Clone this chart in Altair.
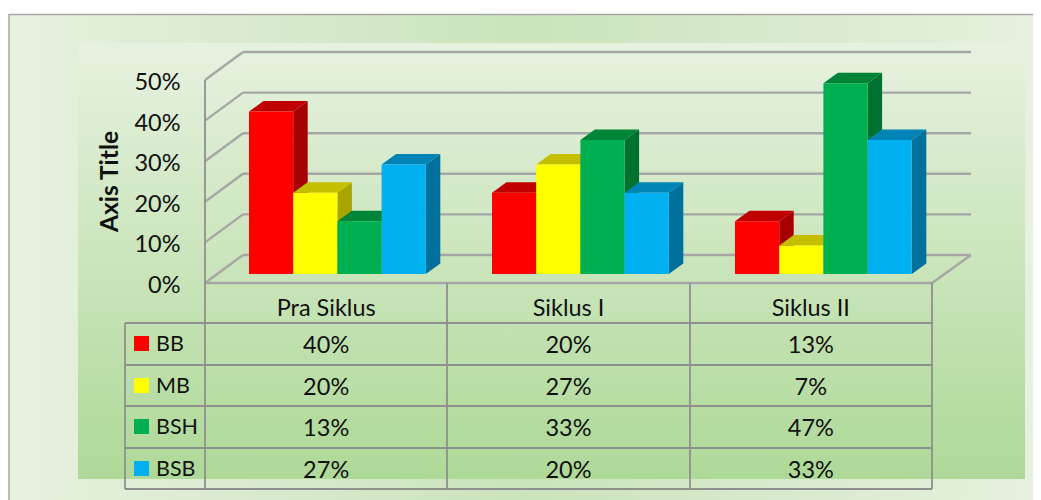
import altair as alt
import pandas as pd

categories = ["Pra Siklus", "Siklus I", "Siklus II"]
series = ["BB", "MB", "BSH", "BSB"]
bb = [40, 20, 13]
mb = [20, 27, 7]
bsh = [13, 33, 47]
bsb = [27, 20, 33]
y_ticks = [0, 10, 20, 30, 40, 50]
front_colors = ["#ff0000", "#ffff00", "#00b050", "#00b0f0"]
top_colors = ["#c00000", "#c4bf00", "#008437", "#0084b5"]
side_colors = ["#a60000", "#a8a400", "#00722f", "#00709c"]
values = [bb, mb, bsh, bsb]

FONT = "Lato"
FS = 23.5
GRID = "#a6a6a6"
LINE = "#8f8f8f"
TXT = "#111111"
W, H = 1025, 492
PER_SLOT = 727 / 3
PER_PCT = 4.06


def sx(p):
    return (p - 205) / PER_SLOT


def sy(p):
    return (283 - p) / PER_PCT


xs = alt.Scale(domain=[0, 3], range=[197, 924])
ys = alt.Scale(domain=[0, 50], range=[275, 72])
X = alt.X("x:Q", scale=xs, axis=None)
Y = alt.Y("y:Q", scale=ys, axis=None, stack=None)
DX = 14.5 / PER_SLOT
DY = 10.5 / PER_PCT
BASE = sy(274)
BW = 44.2 / PER_SLOT
GROUP_STEP = 243 / PER_SLOT

front, side, top = [], [], []
for s, vals in enumerate(values):
    for g, v in enumerate(vals):
        x0 = g * GROUP_STEP + sx(249) + s * BW
        x1 = x0 + BW
        yt = BASE + v
        bid = f"{s}-{g}"
        front.append({"x": x0, "x2": x1, "y": BASE, "y2": yt, "c": front_colors[s]})
        side.append({"id": bid, "x": x1, "y": BASE, "y2": yt, "c": side_colors[s]})
        side.append({"id": bid, "x": x1 + DX, "y": BASE + DY, "y2": yt + DY, "c": side_colors[s]})
        top.append({"id": bid, "x": x0, "x2": x1, "y": yt, "c": top_colors[s]})
        top.append({"id": bid, "x": x0 + DX, "x2": x1 + DX, "y": yt + DY, "c": top_colors[s]})

# 3D wall / floor lines
WX, WY = sx(243), sy(255)
back = pd.DataFrame([{"x": WX, "x2": sx(971), "y": t + WY, "y2": t + WY} for t in y_ticks])
diag = pd.DataFrame([{"x": 0, "x2": WX, "y": t, "y2": t + WY} for t in y_ticks]
                    + [{"x": 3, "x2": sx(971), "y": 0, "y2": WY}])
floor = pd.DataFrame([{"x": 0, "x2": 3, "y": 0, "y2": 0}])

# data table
row_edges = [323, 365, 406, 448, 489]
col_edges = [125, 205, 447, 690, 932]
h_rules = pd.DataFrame([{"x": sx(125), "x2": 3, "y": sy(p), "y2": sy(p)} for p in row_edges])
v_rules = pd.DataFrame(
    [{"x": sx(125), "x2": sx(125), "y": sy(323), "y2": sy(489)},
     {"x": 0, "x2": 0, "y": 50, "y2": sy(489)}]
    + [{"x": sx(p), "x2": sx(p), "y": 0, "y2": sy(489)} for p in col_edges[2:]]
)
row_mid = [344, 386, 427, 469]
TEXT_DROP = 1.5
cells = []
for g, c in enumerate(categories):
    cells.append({"x": g + 0.5, "y": sy(307 + TEXT_DROP), "t": c})
    for s, vals in enumerate(values):
        cells.append({"x": g + 0.5, "y": sy(row_mid[s] + TEXT_DROP), "t": f"{vals[g]}%"})
legend_text = pd.DataFrame([{"x": sx(156), "y": sy(row_mid[s] + TEXT_DROP - 1), "t": n} for s, n in enumerate(series)])
swatches = pd.DataFrame(
    [{"x": sx(134), "x2": sx(149), "y": sy(row_mid[s] - 0.5 + 7.5), "y2": sy(row_mid[s] - 0.5 - 7.5), "c": front_colors[s]}
     for s in range(4)]
)

one = pd.DataFrame({"a": [0]})
outer = alt.Chart(one).mark_rect(
    fill=alt.Gradient(gradient="linear", x1=0, x2=1, y1=0, y2=0,
                      stops=[alt.GradientStop(offset=0, color="#e6f1df"),
                             alt.GradientStop(offset=0.5, color="#cbe3bc"),
                             alt.GradientStop(offset=1, color="#e6f1df")]),
    stroke="#a6a6a6", strokeWidth=1.5,
).encode(x=alt.value(1), x2=alt.value(W + 10), y=alt.value(6.5), y2=alt.value(H + 10))
inner = alt.Chart(one).mark_rect(
    fill=alt.Gradient(gradient="linear", x1=0, x2=0, y1=0, y2=1,
                      stops=[alt.GradientStop(offset=0, color="#e7f1e0"),
                             alt.GradientStop(offset=1, color="#aed997")]),
).encode(x=alt.value(70), x2=alt.value(1017), y=alt.value(35), y2=alt.value(471))


def rules(df, color, width):
    return alt.Chart(df).mark_rule(stroke=color, strokeWidth=width).encode(
        x=X, x2="x2:Q", y=Y, y2="y2:Q")


axis_layer = alt.Chart(back).mark_rule(stroke=GRID, strokeWidth=2.4).encode(
    x=X, x2="x2:Q",
    y=alt.Y("y:Q", scale=ys, title="Axis Title",
            axis=alt.Axis(values=y_ticks, labelExpr="datum.value + '%'", orient="left", offset=-172,
                          domain=False, ticks=False, grid=False, labelPadding=0, labelFont=FONT,
                          labelFontSize=FS, labelColor=TXT, labelOffset=2.5, labelAlign="right",
                          labelBaseline="middle", labelOverlap=False, zindex=1,
                          titleFont=FONT, titleFontSize=24.5, titleFontWeight="bold", titleColor=TXT,
                          titleAngle=270, titleAlign="center", titleBaseline="middle",
                          titleX=-70, titleY=173)),
    y2="y2:Q",
)

side_l = alt.Chart(pd.DataFrame(side)).mark_area(orient="vertical", opacity=1).encode(
    x=X, y=Y, y2="y2:Q", detail="id:N", fill=alt.Fill("c:N", scale=None))
top_l = alt.Chart(pd.DataFrame(top)).mark_area(orient="horizontal", opacity=1).encode(
    y=Y, x=alt.X("x:Q", scale=xs, axis=None, stack=None), x2="x2:Q", detail="id:N",
    fill=alt.Fill("c:N", scale=None))
front_l = alt.Chart(pd.DataFrame(front)).mark_rect().encode(
    x=X, x2="x2:Q", y=Y, y2="y2:Q", fill=alt.Fill("c:N", scale=None))
swatch_l = alt.Chart(swatches).mark_rect().encode(
    x=X, x2="x2:Q", y=Y, y2="y2:Q", fill=alt.Fill("c:N", scale=None))
cell_l = alt.Chart(pd.DataFrame(cells)).mark_text(
    font=FONT, fontSize=FS, color=TXT, align="center", baseline="middle").encode(x=X, y=Y, text="t:N")
legend_l = alt.Chart(legend_text).mark_text(
    font=FONT, fontSize=21.5, color=TXT, align="left", baseline="middle").encode(x=X, y=Y, text="t:N")

chart = alt.layer(
    outer, inner, axis_layer,
    rules(diag, GRID, 2.4), rules(floor, GRID, 2.4),
    rules(h_rules, LINE, 1.8), rules(v_rules, LINE, 1.8),
    side_l, top_l, front_l, swatch_l, cell_l, legend_l,
).resolve_axis(y="independent").properties(
    width=W, height=H, padding=0, autosize=alt.AutoSizeParams(type="none"),
    background="#ffffff",
).configure_view(stroke=None)

chart.save("out.html", embed_options={"renderer": "svg", "actions": False})
